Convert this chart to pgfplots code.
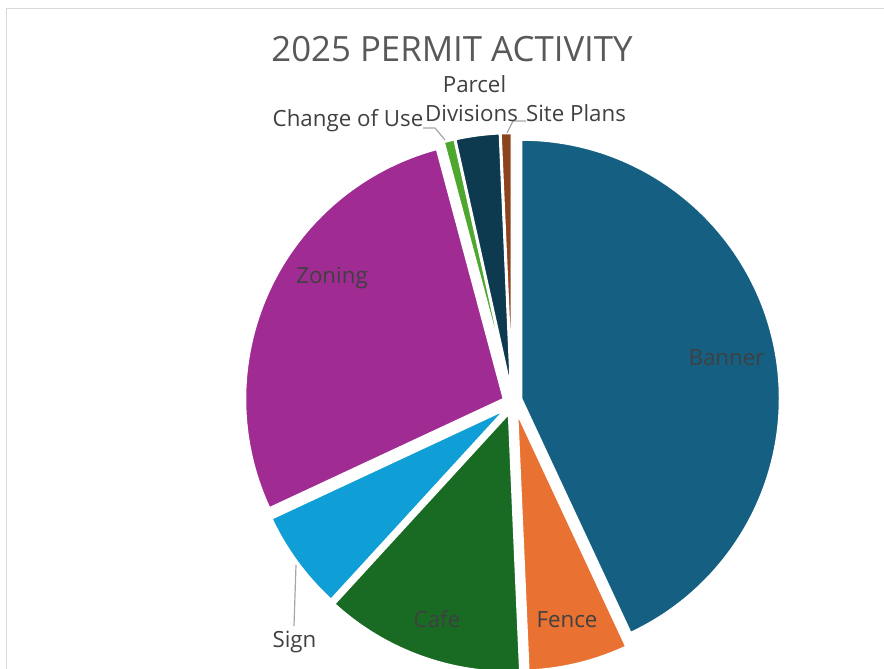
\documentclass[border=0pt]{standalone}
\usepackage{pgfplots}
\pgfplotsset{compat=1.18}
\usepackage{pgfplotstable}
\usepackage{fontspec}
\setmainfont{Open Sans}

\definecolor{c0}{HTML}{156082}
\definecolor{c1}{HTML}{E97132}
\definecolor{c2}{HTML}{196B24}
\definecolor{c3}{HTML}{0F9ED5}
\definecolor{c4}{HTML}{A02B93}
\definecolor{c5}{HTML}{4EA72E}
\definecolor{c6}{HTML}{0D3A4E}
\definecolor{c7}{HTML}{8C441E}
\definecolor{lbl}{HTML}{404040}
\definecolor{ttl}{HTML}{595959}
\definecolor{lead}{HTML}{A6A6A6}
\definecolor{frame}{HTML}{D9D9D9}

% permit counts, clockwise from 12 o'clock; dx dy = explosion offset of each slice
\pgfplotstableread{
category count dx dy
Banner 62 9 2.5
Fence 9 5 -11
Cafe 18 -3 -12
Sign 9 -6 -8
Zoning 40 -8 2
ChangeOfUse 1 -1.4 8.9
ParcelDivisions 4 -0.8 9
SitePlans 1 -0.2 9
}\permits

% pie geometry (1 axis unit = 1pt)
\def\pcx{512}\def\pcy{268}\def\pr{259}

\def\total{0}
\pgfplotsforeachungrouped \i in {0,...,7}{%
  \pgfplotstablegetelem{\i}{count}\of\permits
  \pgfmathsetmacro\tmp{\total+\pgfplotsretval}%
  \xdef\total{\tmp}%
}
\def\cum{0}
\pgfplotsforeachungrouped \i in {0,...,7}{%
  \pgfplotstablegetelem{\i}{count}\of\permits
  \pgfmathsetmacro\cumnew{\cum+\pgfplotsretval}%
  \pgfmathsetmacro\sa{90-\cum/\total*360}%
  \pgfmathsetmacro\eb{90-\cumnew/\total*360}%
  \pgfplotstablegetelem{\i}{dx}\of\permits
  \pgfmathsetmacro\cx{\pcx+\pgfplotsretval}%
  \pgfplotstablegetelem{\i}{dy}\of\permits
  \pgfmathsetmacro\cy{\pcy+\pgfplotsretval}%
  \expandafter\xdef\csname sa\i\endcsname{\sa}%
  \expandafter\xdef\csname eb\i\endcsname{\eb}%
  \expandafter\xdef\csname cx\i\endcsname{\cx}%
  \expandafter\xdef\csname cy\i\endcsname{\cy}%
  \xdef\cum{\cumnew}%
}

\newcommand\lab{\fontsize{22.3}{26}\selectfont}

\begin{document}
\begin{tikzpicture}
\begin{axis}[
  at={(0,0)}, anchor=south west,
  width=884pt, height=669pt, scale only axis,
  xmin=0, xmax=884, ymin=0, ymax=669,
  hide axis, clip=true,
]
\pgfplotsinvokeforeach{0,...,7}{
  \filldraw[fill=c#1, draw=white, line width=2.5pt, line join=round]
    (axis cs:\csname cx#1\endcsname,\csname cy#1\endcsname)
    -- ++(\csname sa#1\endcsname:\pr pt)
    arc[start angle=\csname sa#1\endcsname, end angle=\csname eb#1\endcsname, radius=\pr pt]
    -- cycle;
}
% frame
\draw[frame, line width=1.5pt] (axis cs:6.5,0) -- (axis cs:6.5,660.5) -- (axis cs:890,660.5);
% leader lines
\draw[lead, line width=1.2pt] (axis cs:423,541) -- (axis cs:435,541) -- (axis cs:445,529);
\draw[lead, line width=1.2pt] (axis cs:526,548) -- (axis cs:513,548) -- (axis cs:507,536);
\draw[lead, line width=1.2pt] (axis cs:296,104) -- (axis cs:294,43);
% title
\node[anchor=base, text=ttl, font=\fontsize{34.8}{40}\selectfont] at (axis cs:452,607) {2025 PERMIT ACTIVITY};
% labels
\node[anchor=base, text=lbl, font=\lab] at (axis cs:726.5,303) {Banner};
\node[anchor=base, text=lbl, font=\lab] at (axis cs:567,41) {Fence};
\node[anchor=base, text=lbl, font=\lab] at (axis cs:437,41) {Cafe};
\node[anchor=base, text=lbl, font=\lab] at (axis cs:294.5,21) {Sign};
\node[anchor=base, text=lbl, font=\lab] at (axis cs:332,385) {Zoning};
\node[anchor=base, text=lbl, font=\lab] at (axis cs:348,542) {Change of Use};
\node[anchor=base, text=lbl, font=\lab] at (axis cs:474.5,576) {Parcel};
\node[anchor=base, text=lbl, font=\lab] at (axis cs:471.5,547) {Divisions};
\node[anchor=base, text=lbl, font=\lab] at (axis cs:576,547) {Site Plans};
\end{axis}
\pgfresetboundingbox
\useasboundingbox (0,0) rectangle (884pt,669pt);
\end{tikzpicture}
\end{document}
